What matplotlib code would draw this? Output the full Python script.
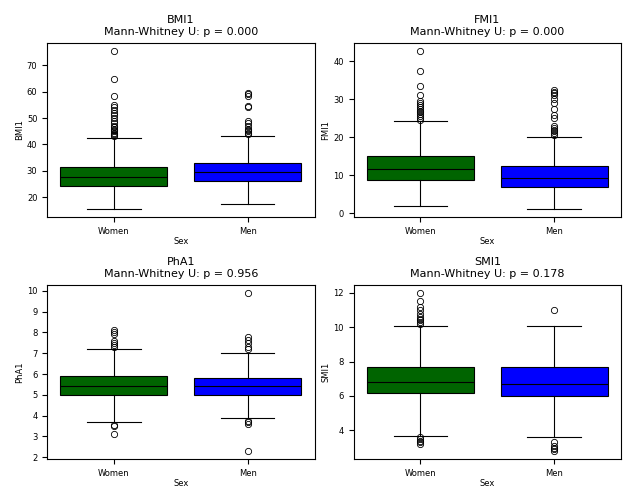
import matplotlib
matplotlib.use('Agg')
from matplotlib import pyplot as plt

groups = ['Women', 'Men']
colors = ['darkgreen', 'blue']

variables = ['BMI1', 'FMI1', 'PhA1', 'SMI1']
pvalues = ['0.000', '0.000', '0.956', '0.178']

# (whislo, q1, med, q3, whishi) per group
bmi_box = [(15.5, 24.3, 27.5, 31.5, 42.5), (17.2, 26.0, 29.5, 32.8, 43.0)]
bmi_fliers = [[43, 43.5, 44, 44.5, 45, 45.5, 46, 46.5, 47, 48, 49, 50, 51, 52, 53, 54, 55, 58.5, 65, 75.5],
              [43.8, 44.5, 45, 45.5, 46, 47, 48, 49, 54, 54.5, 58.5, 59, 59.5]]

fmi_box = [(1.8, 8.7, 11.5, 15.0, 24.2), (1.1, 6.8, 9.3, 12.3, 20.0)]
fmi_fliers = [[24.5, 25, 25.5, 26, 26.5, 27, 27.5, 28, 28.5, 29, 29.5, 31, 33.5, 37.5, 42.7],
              [20.5, 21, 21.5, 22, 22.5, 23, 25, 25.8, 27.5, 29, 30, 31, 31.5, 32, 32.5]]

pha_box = [(3.7, 5.0, 5.4, 5.9, 7.2), (3.9, 5.0, 5.4, 5.8, 7.0)]
pha_fliers = [[7.3, 7.4, 7.5, 7.6, 7.9, 8.0, 8.1, 3.55, 3.5, 3.1],
              [7.2, 7.3, 7.5, 7.65, 7.8, 9.9, 3.75, 3.7, 3.6, 2.3]]

smi_box = [(3.7, 6.2, 6.8, 7.7, 10.1), (3.6, 6.0, 6.7, 7.7, 10.1)]
smi_fliers = [[10.2, 10.3, 10.4, 10.5, 10.6, 10.8, 11.0, 11.2, 11.5, 12.0, 3.6, 3.5, 3.4, 3.3, 3.2],
              [11.0, 3.3, 3.1, 3.0, 2.9, 2.8]]

boxes = [bmi_box, fmi_box, pha_box, smi_box]
fliers = [bmi_fliers, fmi_fliers, pha_fliers, smi_fliers]

fig, axes = plt.subplots(2, 2, figsize=(6.36, 5.03), dpi=100)
for ax, var, p, box, fl in zip(axes.flat, variables, pvalues, boxes, fliers):
    stats = []
    for g, b, f in zip(groups, box, fl):
        stats.append(dict(label=g, whislo=b[0], q1=b[1], med=b[2], q3=b[3], whishi=b[4], fliers=f))
    bp = ax.bxp(stats, positions=[0, 1], widths=0.8, capwidths=0.4, patch_artist=True,
                medianprops=dict(color='black', linewidth=0.8),
                whiskerprops=dict(linewidth=0.8), capprops=dict(linewidth=0.8),
                boxprops=dict(linewidth=0.8),
                flierprops=dict(marker='o', markersize=4.5, markerfacecolor='none',
                                markeredgecolor='black', markeredgewidth=0.6))
    for patch, c in zip(bp['boxes'], colors):
        patch.set_facecolor(c)
        patch.set_edgecolor('black')
    ax.set_xlim(-0.5, 1.5)
    ax.set_title(f'{var}\nMann-Whitney U: p = {p}', fontsize=8)
    ax.set_xlabel('Sex', fontsize=6, labelpad=1)
    ax.set_ylabel(var, fontsize=6, labelpad=2)
    ax.tick_params(labelsize=6)

plt.tight_layout(w_pad=0.5, h_pad=0.8)
plt.savefig('out.png')
